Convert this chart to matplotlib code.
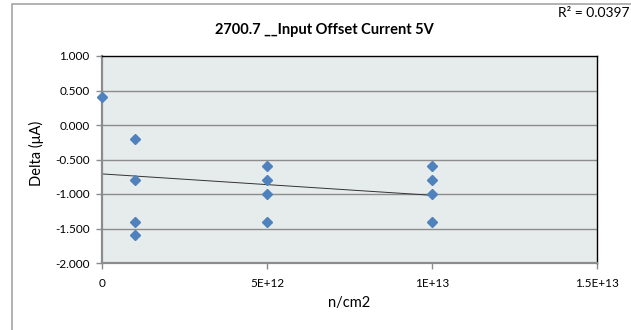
import numpy as np
import matplotlib
matplotlib.use('Agg')
import matplotlib.pyplot as plt
from matplotlib.patches import Rectangle

plt.rcParams['font.family'] = ['Lato', 'DejaVu Sans']

# fluence (n/cm2) and measured delta (uA)
fluence = [0, 1e12, 1e12, 1e12, 1e12, 5e12, 5e12, 5e12, 5e12, 1e13, 1e13, 1e13, 1e13]
delta = [0.4, -0.2, -0.8, -1.4, -1.6, -0.6, -0.8, -1.0, -1.4, -0.6, -0.8, -1.0, -1.4]
y_ticks = [1.0, 0.5, 0.0, -0.5, -1.0, -1.5, -2.0]
x_ticks = [0, 5e12, 1e13, 1.5e13]
x_ticklabels = ['0', '5E+12', '1E+13', '1.5E+13']
title = '2700.7 __Input Offset Current 5V'
r2_text = 'R\u00b2 = 0.0397'

fig = plt.figure(figsize=(6.31, 3.30), dpi=100)
fig.patches.append(Rectangle((12 / 631, -0.1), 1.0, 1.1 - 4 / 330, transform=fig.transFigure,
                             fill=False, edgecolor='#a6a6a6', linewidth=1.2))

ax = fig.add_axes([102 / 631, 67 / 330, 495 / 631, 207 / 330])
ax.set_facecolor('#e6ebeb')

for y in y_ticks[1:-1]:
    ax.axhline(y, color='#8c8c8c', linewidth=1.0, zorder=1)

# linear trendline over the data range
slope, icpt = np.polyfit(np.array(fluence), np.array(delta), 1)
xt = np.array([min(fluence), max(fluence)])
ax.plot(xt, slope * xt + icpt, color='#333333', linewidth=0.7, zorder=2)

ax.plot(fluence, delta, linestyle='none', marker='D', markersize=5.6,
        color='#4f81bd', markeredgecolor='#4f81bd', zorder=3, clip_on=False)

ax.set_xlim(0, 1.5e13)
ax.set_ylim(-2.0, 1.0)
ax.set_yticks(y_ticks)
ax.set_yticklabels([f'{v:.3f}' for v in y_ticks], fontsize=8.5)
ax.set_xticks(x_ticks)
ax.set_xticklabels(x_ticklabels, fontsize=8.5)
ax.tick_params(axis='y', direction='out', length=4, color='#8c8c8c', width=1, pad=5)
ax.tick_params(axis='x', direction='out', length=4, color='#8c8c8c', width=1, pad=7)

ax.spines['left'].set_color('#8c8c8c')
ax.spines['bottom'].set_color('#8c8c8c')
ax.spines['left'].set_linewidth(1.6)
ax.spines['bottom'].set_linewidth(1.6)
ax.spines['top'].set_color('black')
ax.spines['right'].set_color('black')
ax.spines['top'].set_linewidth(1.0)
ax.spines['right'].set_linewidth(1.0)

ax.set_ylabel('Delta (\u03bcA)', fontsize=10.5, labelpad=5)
ax.yaxis.set_label_coords(-0.118, 0.53)
ax.set_xlabel('n/cm2', fontsize=10.5, labelpad=5)

fig.text(324 / 631, 1 - 30 / 330, title, ha='center', va='center', fontsize=10.5, fontweight='bold')
fig.text(629 / 631, 1 - 13 / 330, r2_text, ha='right', va='center', fontsize=10)

plt.savefig('out.png', dpi=100)
